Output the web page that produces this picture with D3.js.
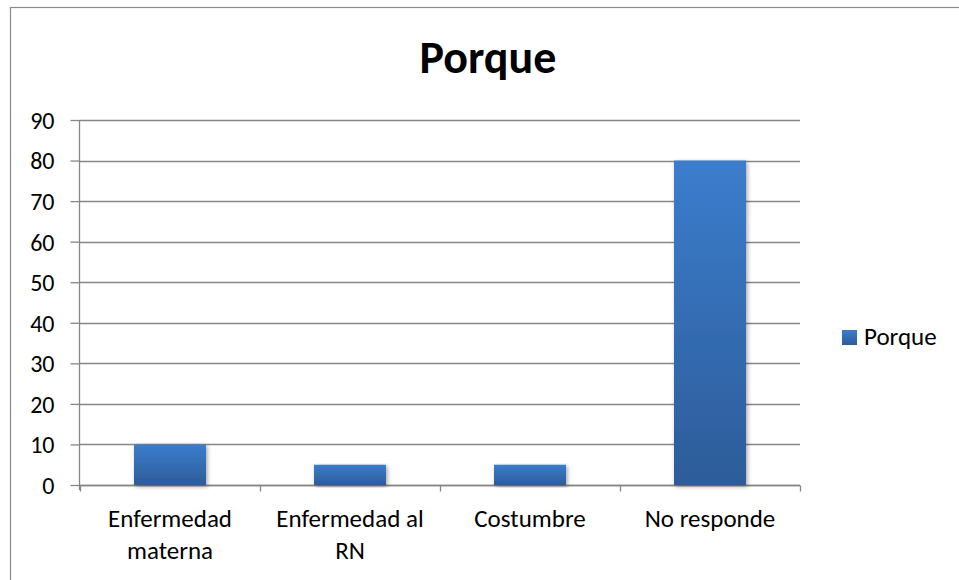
<!DOCTYPE html>
<html>
<head>
<meta charset="utf-8">
<script src="https://cdn.jsdelivr.net/npm/d3@7"></script>
<style>
  html, body { margin: 0; padding: 0; background: #fff; }
  svg { display: block; font-family: Carlito, Calibri, Lato, "Open Sans", sans-serif; }
</style>
</head>
<body>
<svg id="chart" width="959" height="580"></svg>
<script>
// Chart data
const title = "Porque";
const seriesName = "Porque";
const categories = [["Enfermedad", "materna"], ["Enfermedad al", "RN"], ["Costumbre"], ["No responde"]];
const values = [10, 5, 5, 80];
const yTicks = [0, 10, 20, 30, 40, 50, 60, 70, 80, 90];

const FONT = "Carlito, Calibri, Lato, sans-serif";
const svg = d3.select("#chart");

// Gradient fill for the bars
const defs = svg.append("defs");
const grad = defs.append("linearGradient")
  .attr("id", "barGrad").attr("x1", 0).attr("y1", 0).attr("x2", 0).attr("y2", 1);
grad.append("stop").attr("offset", "0%").attr("stop-color", "#3b7dcd");
grad.append("stop").attr("offset", "100%").attr("stop-color", "#2d5c99");

const shadow = defs.append("filter").attr("id", "barShadow")
  .attr("x", "-20%").attr("y", "-5%").attr("width", "140%").attr("height", "115%");
shadow.append("feDropShadow").attr("dx", 1.5).attr("dy", 1.5).attr("stdDeviation", 2)
  .attr("flood-color", "#000").attr("flood-opacity", 0.35);

// Outer chart border
svg.append("rect")
  .attr("x", 10.5).attr("y", 7.5).attr("width", 970).attr("height", 600)
  .attr("fill", "#fff").attr("stroke", "#8c8c8c").attr("stroke-width", 1.2);

const plot = { left: 80, right: 800, top: 120, bottom: 485 };

const x = d3.scaleBand()
  .domain(d3.range(categories.length))
  .range([plot.left, plot.right])
  .paddingInner(0.6).paddingOuter(0.3);

const y = d3.scaleLinear().domain([0, 90]).range([plot.bottom, plot.top]);

// Horizontal gridlines
svg.append("g")
  .selectAll("line")
  .data(yTicks)
  .join("line")
  .attr("x1", plot.left).attr("x2", plot.right)
  .attr("y1", d => Math.round(y(d)) + 0.5).attr("y2", d => Math.round(y(d)) + 0.5)
  .attr("stroke", "#878787").attr("stroke-width", 1.3);

// Y axis
const yAxis = svg.append("g")
  .attr("transform", `translate(${plot.left - 0.5},0)`)
  .call(d3.axisLeft(y).tickValues(yTicks).tickSize(9).tickSizeOuter(0).tickPadding(16));
yAxis.select(".domain").attr("stroke", "#878787").attr("stroke-width", 1.3)
  .attr("d", `M0,${plot.top}V${plot.bottom + 5}`);
yAxis.selectAll(".tick line").attr("stroke", "#878787").attr("stroke-width", 1.3);
yAxis.selectAll(".tick text").attr("font-size", 24).attr("fill", "#000")
  .attr("font-family", FONT).attr("dy", "0.35em");

// X axis with boundary ticks between categories
const xb = d3.scaleLinear().domain([0, categories.length]).range([plot.left, plot.right]);
const xAxis = svg.append("g").attr("transform", `translate(0,${Math.round(y(0)) + 0.5})`);
xAxis.append("line").attr("x1", plot.left).attr("x2", plot.right)
  .attr("stroke", "#878787").attr("stroke-width", 1.3);
xAxis.selectAll("line.tk")
  .data(d3.range(categories.length + 1))
  .join("line").attr("class", "tk")
  .attr("x1", d => Math.round(xb(d)) + 0.5).attr("x2", d => Math.round(xb(d)) + 0.5)
  .attr("y1", 0).attr("y2", 6)
  .attr("stroke", "#878787").attr("stroke-width", 1.3);

// Bars
svg.append("g")
  .selectAll("rect")
  .data(values)
  .join("rect")
  .attr("x", (d, i) => x(i))
  .attr("width", x.bandwidth())
  .attr("y", d => y(d))
  .attr("height", d => y(0) - y(d))
  .attr("fill", "url(#barGrad)")
  .attr("filter", "url(#barShadow)");

// Category labels
const labels = svg.append("g")
  .selectAll("text")
  .data(categories)
  .join("text")
  .attr("x", (d, i) => x(i) + x.bandwidth() / 2)
  .attr("y", 527)
  .attr("text-anchor", "middle")
  .attr("font-size", 25)
  .attr("fill", "#000");
labels.selectAll("tspan")
  .data(d => d)
  .join("tspan")
  .attr("x", function() { return this.parentNode.getAttribute("x"); })
  .attr("dy", (d, i) => i === 0 ? 0 : 32)
  .text(d => d);

// Title
svg.append("text")
  .attr("x", 488).attr("y", 73)
  .attr("text-anchor", "middle")
  .attr("font-size", 46).attr("font-weight", "bold")
  .attr("fill", "#000")
  .text(title);

// Legend
const legend = svg.append("g").attr("transform", "translate(842,330)");
legend.append("rect").attr("width", 15).attr("height", 15).attr("fill", "url(#barGrad)");
legend.append("text").attr("x", 22).attr("y", 15)
  .attr("font-size", 25).attr("fill", "#000").text(seriesName);
</script>
</body>
</html>
